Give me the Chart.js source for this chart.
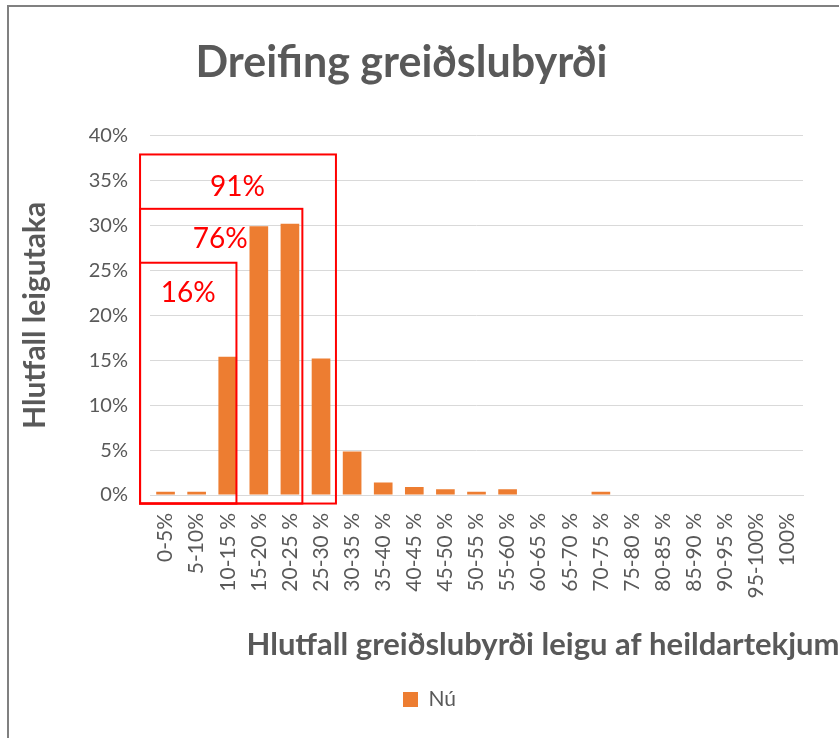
<!DOCTYPE html>
<html><head><meta charset="utf-8">
<script src="https://cdn.jsdelivr.net/npm/chart.js@4/dist/chart.umd.min.js"></script>
<style>html,body{margin:0;padding:0;background:#fff}#wrap{width:839px;height:738px;position:relative}</style>
</head><body><div id="wrap"><canvas id="c" width="839" height="738"></canvas></div>
<script>
const categories = ['0-5%','5-10%','10-15 %','15-20 %','20-25 %','25-30 %','30-35 %','35-40 %','40-45 %','45-50 %','50-55 %','55-60 %','60-65 %','65-70 %','70-75 %','75-80 %','80-85 %','85-90 %','90-95 %','95-100%','100%'];
const values = [0.35,0.35,15.4,29.9,30.2,15.2,4.85,1.4,0.9,0.65,0.37,0.65,0,0,0.37,0,0,0,0,0,0];
const seriesName = 'Nú';
const yTicks = [0,5,10,15,20,25,30,35,40];
const chartTitle = 'Dreifing greiðslubyrði';
const yTitle = 'Hlutfall leigutaka';
const xTitle = 'Hlutfall greiðslubyrði leigu af heildartekjum';
// cumulative-share annotation boxes (value units)
const boxLabels = ['91%','76%','16%'];
const boxTops = [37.9,31.85,25.85];
const boxRights = [5.48,4.40,2.28];
const boxLeft = -0.82;
const boxBottom = -0.95;
const labelXs = [2.31,1.76,0.73];
const labelYs = [34.3,28.5,22.5];

const FONT = 'Lato';
const GREY = '#595959';

const overlay = {
  id: 'overlay',
  beforeDraw(chart) {
    const ctx = chart.ctx;
    ctx.save();
    ctx.fillStyle = '#fff';
    ctx.fillRect(0, 0, chart.width, chart.height);
    ctx.strokeStyle = '#808080';
    ctx.lineWidth = 2;
    ctx.beginPath();
    ctx.moveTo(8, chart.height);
    ctx.lineTo(8, 6);
    ctx.lineTo(chart.width, 6);
    ctx.stroke();
    ctx.restore();
  },
  afterLayout(chart) {
    chart.legend.left += 28;
    chart.legend.right += 28;
  },
  afterDatasetsDraw(chart) {
    const ctx = chart.ctx, xs = chart.scales.x, ys = chart.scales.y;
    ctx.save();
    ctx.strokeStyle = '#FF0000';
    ctx.lineWidth = 2;
    for (let i = 0; i < boxLabels.length; i++) {
      const l = xs.getPixelForValue(boxLeft), r = xs.getPixelForValue(boxRights[i]);
      const t = ys.getPixelForValue(boxTops[i]), b = ys.getPixelForValue(boxBottom);
      ctx.strokeRect(l, t, r - l, b - t);
    }
    ctx.fillStyle = '#FF0000';
    ctx.font = '28px ' + FONT;
    ctx.textAlign = 'center';
    ctx.textBaseline = 'middle';
    for (let i = 0; i < boxLabels.length; i++) {
      ctx.fillText(boxLabels[i], xs.getPixelForValue(labelXs[i]), ys.getPixelForValue(labelYs[i]));
    }
    ctx.fillStyle = GREY;
    ctx.font = 'bold 31px ' + FONT;
    ctx.fillText(xTitle, 543, 645);
    ctx.restore();
  }
};

new Chart(document.getElementById('c'), {
  type: 'bar',
  data: {
    labels: categories,
    datasets: [{
      label: seriesName,
      data: values,
      backgroundColor: '#ED7D31',
      borderWidth: 0,
      barPercentage: 0.6,
      categoryPercentage: 1.0
    }]
  },
  options: {
    responsive: false,
    animation: false,
    devicePixelRatio: 1,
    layout: { padding: { left: 0, right: 36, top: 0, bottom: 18 } },
    plugins: {
      title: {
        display: true, text: chartTitle, color: GREY,
        font: { family: FONT, size: 43, weight: 'bold' },
        padding: { top: 37, bottom: 47 }
      },
      legend: {
        position: 'bottom',
        labels: {
          color: GREY, font: { family: FONT, size: 21 },
          boxWidth: 15, boxHeight: 15, padding: 10
        }
      },
      tooltip: { enabled: false }
    },
    scales: {
      x: {
        grid: { display: false },
        border: { display: true, color: '#D9D9D9' },
        ticks: {
          color: GREY, font: { family: FONT, size: 21 },
          minRotation: 90, maxRotation: 90, autoSkip: false, padding: 10
        },
        afterFit(s) { s.height = 184; }
      },
      y: {
        min: 0, max: 40,
        afterBuildTicks(s) { s.ticks = yTicks.map(v => ({ value: v })); },
        grid: { color: '#D9D9D9', drawTicks: false },
        border: { display: false },
        ticks: {
          color: GREY, font: { family: FONT, size: 20 }, padding: 22,
          callback: v => v + '%'
        },
        title: {
          display: true, text: yTitle, color: GREY,
          font: { family: FONT, size: 30, weight: 'bold' },
          padding: { top: 17, bottom: 0 }
        },
        afterFit(s) { s.width = 150; }
      }
    }
  },
  plugins: [overlay]
});
</script>
</body></html>
